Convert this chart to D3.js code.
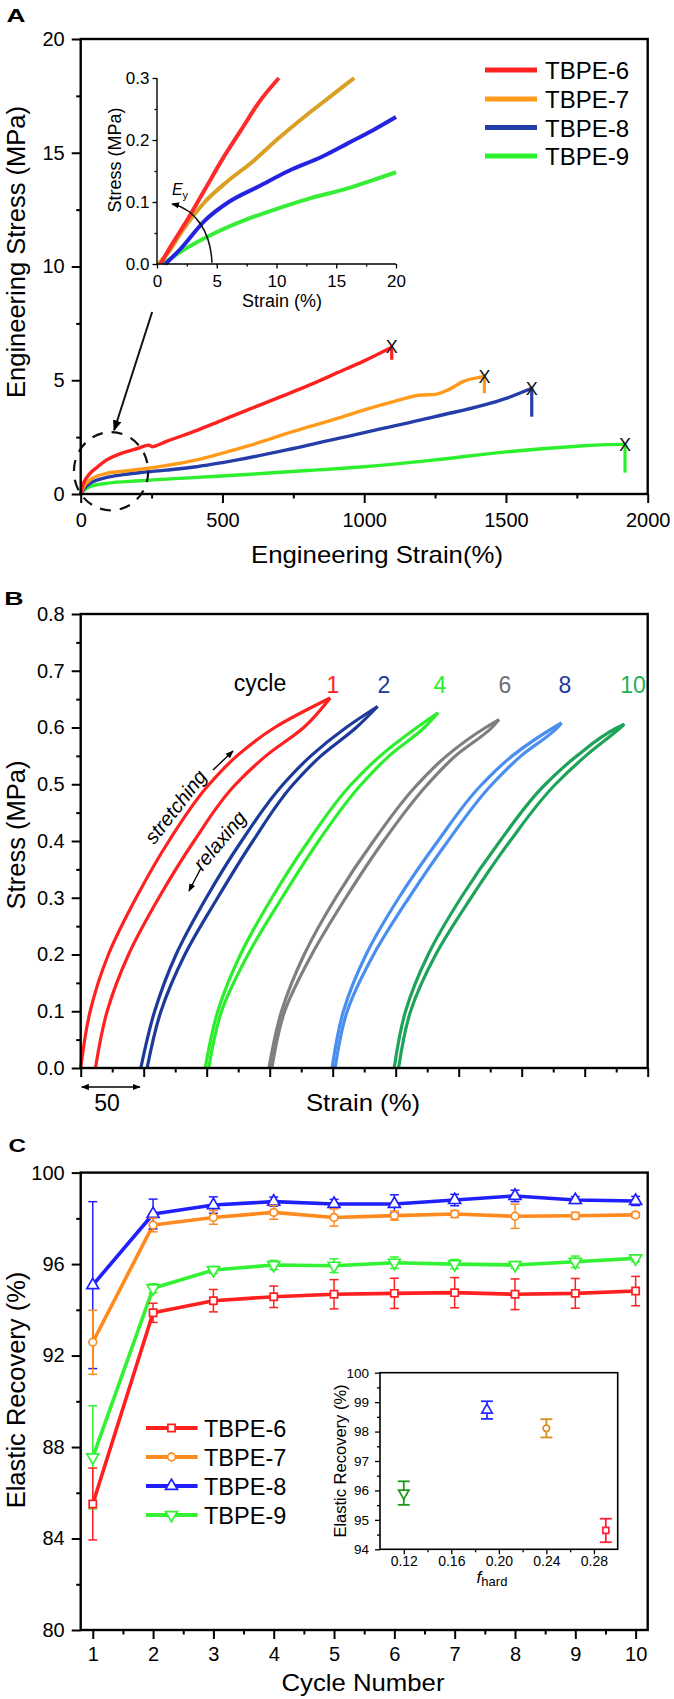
<!DOCTYPE html>
<html>
<head>
<meta charset="utf-8">
<script src="https://cdn.jsdelivr.net/npm/d3@7/dist/d3.min.js"></script>
<style>
body{margin:0;background:#fff;}
svg{display:block;}
</style>
</head>
<body>
<svg id="fig" width="674" height="1699" xmlns="http://www.w3.org/2000/svg"></svg>
<script>
// ================= DATA =================
const seriesNames = ["TBPE-6","TBPE-7","TBPE-8","TBPE-9"];

// Panel A – tensile curves (strain %, stress MPa)
const strainA6 = [0,5,15,33,60,92,125,162,200,240,252,265,300,400,500,600,700,800,900,1000,1097];
const stressA6 = [0,0.3,0.6,0.91,1.2,1.5,1.7,1.86,2.0,2.15,2.08,2.12,2.3,2.75,3.25,3.75,4.25,4.75,5.3,5.85,6.45];
const strainA7 = [0,10,33,60,92,150,209,300,409,500,600,750,900,1000,1100,1200,1250,1300,1350,1424];
const stressA7 = [0,0.3,0.62,0.8,0.91,1.0,1.09,1.25,1.5,1.8,2.15,2.75,3.3,3.7,4.05,4.35,4.38,4.6,4.95,5.16];
const strainA8 = [0,10,33,60,92,150,209,300,409,500,750,1000,1250,1500,1591];
const stressA8 = [0,0.2,0.47,0.62,0.73,0.85,0.94,1.05,1.2,1.38,2.0,2.7,3.4,4.2,4.65];
const strainA9 = [0,10,33,92,209,409,600,800,1000,1250,1500,1750,1850,1920];
const stressA9 = [0,0.15,0.32,0.47,0.58,0.73,0.87,1.03,1.2,1.5,1.85,2.1,2.17,2.18];
const breakStrain = [1097,1424,1591,1920];
const breakStress = [6.48,5.16,4.65,2.18];
const breakTickEnd = [5.9,4.43,3.4,0.94];
const xTicksA = [0,500,1000,1500,2000], xMinorA = [250,750,1250,1750];
const yTicksA = [0,5,10,15,20], yMinorA = [2.5,7.5,12.5,17.5];

// Panel A inset – initial region
const insetStrain6 = [0.3,1.2,2.5,4,5.5,7,8.5,10.2];
const insetStress6 = [0,0.03,0.07,0.12,0.17,0.215,0.26,0.3];
const insetStrain7 = [0.1,1,2,4,6,8,10,12.5,14.5,16.5];
const insetStress7 = [0,0.02,0.05,0.1,0.135,0.165,0.2,0.24,0.27,0.3];
const insetStrain8 = [0.7,2,4,6,8.5,11,13.8,16,18,20];
const insetStress8 = [0,0.025,0.07,0.1,0.125,0.15,0.173,0.195,0.215,0.237];
const insetStrain9 = [0.5,2,4.85,7.5,10.2,13,15.6,18,20];
const insetStress9 = [0,0.02,0.05,0.072,0.09,0.107,0.12,0.135,0.148];
const xTicksAi = [0,5,10,15,20], xMinorAi = [2.5,7.5,12.5,17.5];
const yTicksAi = [0,0.1,0.2,0.3], yMinorAi = [0.05,0.15,0.25];

// Panel B – cyclic loading (strain % at each stress level)
const cycleIds = ["1","2","4","6","8","10"];
const stressLevelsB = [0,0.1,0.2,0.3,0.4,0.5,0.55,0.6];
const stretchStrainB = [
  [0,7.5,22,44,70,102,124,154],
  [47.7,58.7,75.7,99.7,127.7,160.7,182.7,210.7],
  [98.8,108.8,126.8,151.8,180.8,214.8,237.8,266.8],
  [149.4,159.4,177.4,202.4,232.4,267.4,290.4,321.4],
  [199.5,208.5,226.5,252.5,283.5,318.5,342.5,375.5],
  [248.8,257.8,275.8,301.8,332.8,368.8,393.8,426]
];
const relaxStrainB = [
  [11.7,21,38,62,90,123,147,177],
  [52.7,63.7,82.7,108.7,136.7,168.7,190.7,218.7],
  [101.6,111.8,132.8,159.8,188.8,222.8,244.8,272.8],
  [151.7,161.9,183.4,210.4,240.4,275.4,297.4,326.4],
  [201.9,211.5,232.5,260.5,291.5,326.5,349.5,378.5],
  [252.3,261.8,281.8,309.8,340.8,376.8,400.8,428.5]
];
const topStrainB = [198,235.6,283.6,332,381.6,431.5];
const topStressB = [0.652,0.637,0.626,0.614,0.608,0.606];
const yTicksB = [0,0.1,0.2,0.3,0.4,0.5,0.6,0.7,0.8];
const yMinorB = [0.05,0.15,0.25,0.35,0.45,0.55,0.65,0.75];
const xTicksB = [0,50,100,150,200,250,300,350,400,450];
const xMinorB = [25,75,125,175,225,275,325,375,425];

// Panel C – elastic recovery vs cycle
const cycleNumbers = [1,2,3,4,5,6,7,8,9,10];
const recovery6 = [85.51,93.87,94.40,94.57,94.68,94.72,94.75,94.68,94.72,94.82];
const error6    = [1.57,0.42,0.49,0.47,0.64,0.66,0.66,0.67,0.65,0.64];
const recovery7 = [92.58,97.71,98.04,98.26,98.04,98.12,98.19,98.09,98.11,98.15];
const error7    = [1.4,0.3,0.3,0.3,0.38,0.2,0.15,0.53,0.15,0.1];
const recovery8 = [95.08,98.19,98.58,98.73,98.63,98.63,98.80,98.98,98.80,98.76];
const error8    = [3.65,0.65,0.36,0.2,0.2,0.4,0.25,0.25,0.15,0.2];
const recovery9 = [87.55,94.94,95.74,95.96,95.93,96.06,96.00,95.96,96.10,96.25];
const error9    = [2.25,0.2,0.15,0.2,0.3,0.25,0.2,0.15,0.25,0.15];
const xTicksC = [1,2,3,4,5,6,7,8,9,10], xMinorC = [1.5,2.5,3.5,4.5,5.5,6.5,7.5,8.5,9.5];
const yTicksC = [80,84,88,92,96,100], yMinorC = [82,86,90,94,98];

// Panel C inset – average recovery vs hard fraction
const fHard = [0.29,0.24,0.19,0.12];
const recoveryAvg = [94.64,98.11,98.73,95.91];
const recoveryAvgErr = [0.4,0.31,0.3,0.4];
const xTicksCi = [0.12,0.16,0.20,0.24,0.28], xMinorCi = [0.14,0.18,0.22,0.26];
const yTicksCi = [94,95,96,97,98,99,100], yMinorCi = [94.5,95.5,96.5,97.5,98.5,99.5];

// ================= STYLE =================
const FONT = "'Liberation Sans', Arial, Helvetica, sans-serif";
const colA = ["#ff2020","#ff9a1a","#233ea8","#2df02d"];
const colAi = ["#ff2a2a","#d9a024","#2424e0","#36ee36"];
const colB = ["#ff2020","#1c3a9a","#2cee2c","#7f7f7f","#4a8ff0","#1fa35a"];
const colBlabel = ["#ff2020","#1c3a9a","#2cee2c","#6f6f6f","#1c3aa0","#1fb055"];
const colC = ["#ff1f1f","#ff8a1f","#2020ff","#33f233"];
const colCi = ["#ff2035","#d68e1c","#2a2aff","#1f9a1f"];
const symC = [d3.symbolSquare, d3.symbolCircle, d3.symbolTriangle, d3.symbolTriangle];
const symRot = [0,0,0,180];

const svg = d3.select("#fig");
const defs = svg.append("defs");
defs.append("marker").attr("id","ah").attr("viewBox","0 0 10 10").attr("refX",9).attr("refY",5)
  .attr("markerWidth",11).attr("markerHeight",11).attr("markerUnits","userSpaceOnUse")
  .attr("orient","auto-start-reverse")
  .append("path").attr("d","M0,1 L10,5 L0,9 Z").attr("fill","#000");
defs.append("marker").attr("id","ahs").attr("viewBox","0 0 10 10").attr("refX",9).attr("refY",5)
  .attr("markerWidth",8).attr("markerHeight",8).attr("markerUnits","userSpaceOnUse")
  .attr("orient","auto-start-reverse")
  .append("path").attr("d","M0,1 L10,5 L0,9 Z").attr("fill","#000");

function addAxis(o){
  const mk = o.orient === "left" ? d3.axisLeft : d3.axisBottom;
  const tr = o.orient === "left" ? `translate(${o.at},0)` : `translate(0,${o.at})`;
  if (o.minor) {
    const gm = svg.append("g").attr("transform", tr)
      .call(mk(o.scale).tickValues(o.minor).tickSize(o.minorLen).tickFormat(""));
    gm.select(".domain").remove();
    gm.selectAll("line").attr("stroke","#000").attr("stroke-width",o.sw);
  }
  const gen = mk(o.scale).tickValues(o.major).tickSize(o.majorLen).tickPadding(o.pad);
  if (o.labels === false) gen.tickFormat(""); else gen.tickFormat(o.fmt || d3.format("d"));
  const g = svg.append("g").attr("transform", tr).call(gen);
  g.select(".domain").remove();
  g.attr("font-size", o.fs).attr("font-family", FONT);
  g.selectAll("text").attr("fill","#000");
  g.selectAll("line").attr("stroke","#000").attr("stroke-width",o.sw);
  return g;
}
function txt(x,y,s,opt={}){
  const t = svg.append("text").attr("x",x).attr("y",y).text(s)
    .attr("font-family",FONT).attr("font-size",opt.fs||20).attr("fill",opt.fill||"#000")
    .attr("text-anchor",opt.anchor||"start");
  if (opt.weight) t.attr("font-weight",opt.weight);
  if (opt.style) t.attr("font-style",opt.style);
  if (opt.len) t.attr("textLength",opt.len).attr("lengthAdjust","spacingAndGlyphs");
  if (opt.rot !== undefined) t.attr("transform",`rotate(${opt.rot},${x},${y})`);
  return t;
}

// ================= PANEL A =================
const xA = d3.scaleLinear().domain([0,2000]).range([80.7,647.7]);
const yA = d3.scaleLinear().domain([0,20]).range([494,39]);
const lineA = d3.line().x(d=>xA(d[0])).y(d=>yA(d[1])).curve(d3.curveMonotoneX);
const curvesA = [d3.zip(strainA6,stressA6), d3.zip(strainA7,stressA7), d3.zip(strainA8,stressA8), d3.zip(strainA9,stressA9)];
[3,2,1,0].forEach(i=>{
  svg.append("path").attr("d",lineA(curvesA[i])).attr("fill","none")
    .attr("stroke",colA[i]).attr("stroke-width",3.4).attr("stroke-linejoin","round");
});
breakStrain.forEach((s,i)=>{
  svg.append("line").attr("x1",xA(s)).attr("x2",xA(s)).attr("y1",yA(breakStress[i])).attr("y2",yA(breakTickEnd[i]))
    .attr("stroke",colA[i]).attr("stroke-width",3.2);
  svg.append("text").attr("x",xA(s)).attr("y",yA(breakStress[i])).attr("dy","0.36em")
    .attr("text-anchor","middle").attr("font-family",FONT).attr("font-size",18).attr("fill","#111").text("X");
});
svg.append("ellipse").attr("cx",xA(107)).attr("cy",yA(1.0))
  .attr("rx",xA(131)-xA(0)).attr("ry",yA(0)-yA(1.72))
  .attr("fill","none").attr("stroke","#111").attr("stroke-width",2.2).attr("stroke-dasharray","11,9");
svg.append("line").attr("x1",xA(252)).attr("y1",yA(8.0)).attr("x2",xA(118)).attr("y2",yA(2.8))
  .attr("stroke","#111").attr("stroke-width",2).attr("marker-end","url(#ah)");
svg.append("rect").attr("x",80.7).attr("y",39).attr("width",567).attr("height",455)
  .attr("fill","none").attr("stroke","#000").attr("stroke-width",2.4);
addAxis({orient:"bottom",scale:xA,at:494,major:xTicksA,minor:xMinorA,majorLen:9,minorLen:4.5,pad:9.5,fs:20,sw:2});
addAxis({orient:"left",scale:yA,at:80.7,major:yTicksA,minor:yMinorA,majorLen:9,minorLen:4.5,pad:7,fs:20,sw:2});
txt(377,562.5,"Engineering Strain(%)",{fs:24,anchor:"middle",len:252});
txt(24.5,252,"Engineering Stress (MPa)",{fs:25.5,anchor:"middle",rot:-90});
txt(6.4,21.7,"A",{fs:19,weight:"bold",len:19});
const legY = [70,99,127.5,156];
seriesNames.forEach((n,i)=>{
  svg.append("line").attr("x1",485).attr("x2",537).attr("y1",legY[i]).attr("y2",legY[i])
    .attr("stroke",colA[i]).attr("stroke-width",5);
  txt(545,legY[i]+9,n,{fs:24});
});

// ---- inset A ----
const xAi = d3.scaleLinear().domain([0,20]).range([157,396]);
const yAi = d3.scaleLinear().domain([0,0.3]).range([264,78]);
const lineAi = d3.line().x(d=>xAi(d[0])).y(d=>yAi(d[1])).curve(d3.curveMonotoneX);
const curvesAi = [d3.zip(insetStrain6,insetStress6), d3.zip(insetStrain7,insetStress7), d3.zip(insetStrain8,insetStress8), d3.zip(insetStrain9,insetStress9)];
[3,2,1,0].forEach(i=>{
  svg.append("path").attr("d",lineAi(curvesAi[i])).attr("fill","none")
    .attr("stroke",colAi[i]).attr("stroke-width",4).attr("stroke-linejoin","round");
});
svg.append("line").attr("x1",157).attr("x2",157).attr("y1",78).attr("y2",264).attr("stroke","#000").attr("stroke-width",1.4);
svg.append("line").attr("x1",157).attr("x2",396).attr("y1",264).attr("y2",264).attr("stroke","#000").attr("stroke-width",1.4);
addAxis({orient:"bottom",scale:xAi,at:264,major:xTicksAi,minor:xMinorAi,majorLen:4.5,minorLen:2.5,pad:6,fs:17,sw:1.3});
addAxis({orient:"left",scale:yAi,at:157,major:yTicksAi,minor:yMinorAi,majorLen:4.5,minorLen:2.5,pad:3,fs:17,sw:1.3,fmt:d3.format(".1f")});
txt(282,306.5,"Strain (%)",{fs:18,anchor:"middle"});
txt(121,160,"Stress (MPa)",{fs:18,anchor:"middle",rot:-90});
const eyPts = [[4.6,0.002],[4.5,0.05],[3.3,0.088],[1.25,0.097]];
svg.append("path")
  .attr("d",`M${xAi(eyPts[0][0])},${yAi(eyPts[0][1])} C${xAi(eyPts[1][0])},${yAi(eyPts[1][1])} ${xAi(eyPts[2][0])},${yAi(eyPts[2][1])} ${xAi(eyPts[3][0])},${yAi(eyPts[3][1])}`)
  .attr("fill","none").attr("stroke","#111").attr("stroke-width",1.5).attr("marker-end","url(#ahs)");
const ey = svg.append("text").attr("x",xAi(1.25)).attr("y",yAi(0.112)).attr("font-family",FONT).attr("font-size",16);
ey.append("tspan").attr("font-style","italic").text("E");
ey.append("tspan").attr("font-size",11).attr("dy",4).text("y");

// ================= PANEL B =================
const xB = d3.scaleLinear().domain([0,450]).range([80.7,647.7]);
const yB = d3.scaleLinear().domain([0,0.8]).range([1068,614]);
const lineB = d3.line().x(d=>xB(d[0])).y(d=>yB(d[1])).curve(d3.curveMonotoneY);
cycleIds.forEach((c,i)=>{
  const st = d3.zip(stretchStrainB[i], stressLevelsB).concat([[topStrainB[i], topStressB[i]]]).reverse();
  const rl = d3.zip(relaxStrainB[i], stressLevelsB).concat([[topStrainB[i], topStressB[i]]]).reverse();
  [st, rl].forEach(p=>{
    svg.append("path").attr("d",lineB(p)).attr("fill","none")
      .attr("stroke",colB[i]).attr("stroke-width",3.2).attr("stroke-linejoin","round");
  });
});
svg.append("rect").attr("x",80.7).attr("y",614).attr("width",567).attr("height",454)
  .attr("fill","none").attr("stroke","#000").attr("stroke-width",2.4);
addAxis({orient:"bottom",scale:xB,at:1068,major:xTicksB,minor:xMinorB,majorLen:9,minorLen:4.5,pad:9,fs:20,sw:2,labels:false});
addAxis({orient:"left",scale:yB,at:80.7,major:yTicksB,minor:yMinorB,majorLen:9,minorLen:4.5,pad:7,fs:20,sw:2,fmt:d3.format(".1f")});
txt(363,1111,"Strain (%)",{fs:24,anchor:"middle",len:114});
txt(24.5,835,"Stress (MPa)",{fs:25.5,anchor:"middle",rot:-90});
txt(4.3,605,"B",{fs:19,weight:"bold",len:19.3});
svg.append("line").attr("x1",xB(0)+1).attr("x2",xB(47)).attr("y1",1087).attr("y2",1087)
  .attr("stroke","#000").attr("stroke-width",1.5).attr("marker-start","url(#ahs)").attr("marker-end","url(#ahs)");
txt(107,1111,"50",{fs:23,anchor:"middle"});
txt(260,691,"cycle",{fs:23,anchor:"middle"});
const cycleLabelX = [333,384,440,505,565,633];
cycleIds.forEach((c,i)=> txt(cycleLabelX[i],693,c,{fs:23,anchor:"middle",fill:colBlabel[i]}));
txt(181,811,"stretching",{fs:20,anchor:"middle",style:"italic",rot:-52});
svg.append("line").attr("x1",213).attr("y1",770).attr("x2",233).attr("y2",751)
  .attr("stroke","#000").attr("stroke-width",1.4).attr("marker-end","url(#ahs)");
txt(225,845,"relaxing",{fs:20,anchor:"middle",style:"italic",rot:-50});
svg.append("line").attr("x1",201).attr("y1",868).attr("x2",189).attr("y2",891)
  .attr("stroke","#000").attr("stroke-width",1.4).attr("marker-end","url(#ahs)");

// ================= PANEL C =================
const xC = d3.scaleLinear().domain([0.8,10.2]).range([80.7,647.7]);
const yC = d3.scaleLinear().domain([80,100]).range([1630,1172.6]);
const recC = [recovery6,recovery7,recovery8,recovery9];
const errC = [error6,error7,error8,error9];
const lineC = d3.line().x(d=>xC(d[0])).y(d=>yC(d[1]));
function marker(x,y,i,col,size){
  svg.append("path").attr("d",d3.symbol().type(symC[i]).size(size)())
    .attr("transform",`translate(${x},${y}) rotate(${symRot[i]})`)
    .attr("fill","#fff").attr("stroke",col).attr("stroke-width",1.7);
}
function errbar(x,y0,y1,col,w,sw){
  svg.append("line").attr("x1",x).attr("x2",x).attr("y1",y0).attr("y2",y1).attr("stroke",col).attr("stroke-width",sw);
  [y0,y1].forEach(y=>svg.append("line").attr("x1",x-w/2).attr("x2",x+w/2).attr("y1",y).attr("y2",y).attr("stroke",col).attr("stroke-width",sw));
}
const orderC = [2,1,3,0];
orderC.forEach(i=>{
  svg.append("path").attr("d",lineC(d3.zip(cycleNumbers,recC[i]))).attr("fill","none")
    .attr("stroke",colC[i]).attr("stroke-width",3.6).attr("stroke-linejoin","round");
});
orderC.forEach(i=>{
  cycleNumbers.forEach((c,k)=>{
    errbar(xC(c), yC(recC[i][k]+errC[i][k]), yC(recC[i][k]-errC[i][k]), colC[i], 9, 1.5);
  });
  cycleNumbers.forEach((c,k)=> marker(xC(c), yC(recC[i][k]), i, colC[i], i===1?46:(i===0?52:62)));
});
svg.append("rect").attr("x",80.7).attr("y",1172.6).attr("width",567).attr("height",457.4)
  .attr("fill","none").attr("stroke","#000").attr("stroke-width",2.4);
addAxis({orient:"bottom",scale:xC,at:1630,major:xTicksC,minor:xMinorC,majorLen:9,minorLen:4.5,pad:8,fs:20,sw:2});
addAxis({orient:"left",scale:yC,at:80.7,major:yTicksC,minor:yMinorC,majorLen:9,minorLen:4.5,pad:7,fs:20,sw:2});
txt(363,1690.5,"Cycle Number",{fs:24,anchor:"middle",len:163});
txt(24.5,1390,"Elastic Recovery (%)",{fs:25.5,anchor:"middle",rot:-90});
txt(8.6,1151.7,"C",{fs:19,weight:"bold",len:17.5});
const legCY = [1428,1457,1486,1515];
seriesNames.forEach((n,i)=>{
  svg.append("line").attr("x1",146).attr("x2",197.6).attr("y1",legCY[i]).attr("y2",legCY[i])
    .attr("stroke",colC[i]).attr("stroke-width",4);
  marker(171.5,legCY[i],i,colC[i],i===1?46:(i===0?52:62));
  txt(204,legCY[i]+8.5,n,{fs:23.5});
});

// ---- inset C ----
const xCi = d3.scaleLinear().domain([0.10,0.30]).range([380,617.7]);
const yCi = d3.scaleLinear().domain([94,100]).range([1549.3,1372.7]);
svg.append("rect").attr("x",380).attr("y",1372.7).attr("width",237.7).attr("height",176.6)
  .attr("fill","#fff").attr("stroke","#000").attr("stroke-width",1.6);
fHard.forEach((f,i)=>{
  errbar(xCi(f), yCi(recoveryAvg[i]+recoveryAvgErr[i]), yCi(recoveryAvg[i]-recoveryAvgErr[i]), colCi[i], 12, 1.8);
  marker(xCi(f), yCi(recoveryAvg[i]), i, colCi[i], i===1?34:(i===0?36:48));
});
addAxis({orient:"bottom",scale:xCi,at:1549.3,major:xTicksCi,minor:xMinorCi,majorLen:5,minorLen:3,pad:2,fs:14,sw:1.3,fmt:d3.format(".2f")});
addAxis({orient:"left",scale:yCi,at:380,major:yTicksCi,minor:yMinorCi,majorLen:5,minorLen:3,pad:6,fs:13.5,sw:1.3});
txt(346,1461,"Elastic Recovery (%)",{fs:16.5,anchor:"middle",rot:-90});
const fh = svg.append("text").attr("x",492).attr("y",1583).attr("text-anchor","middle")
  .attr("font-family",FONT).attr("font-size",17);
fh.append("tspan").attr("font-style","italic").text("f");
fh.append("tspan").attr("font-size",13).attr("dy",3).text("hard");
</script>
</body>
</html>
